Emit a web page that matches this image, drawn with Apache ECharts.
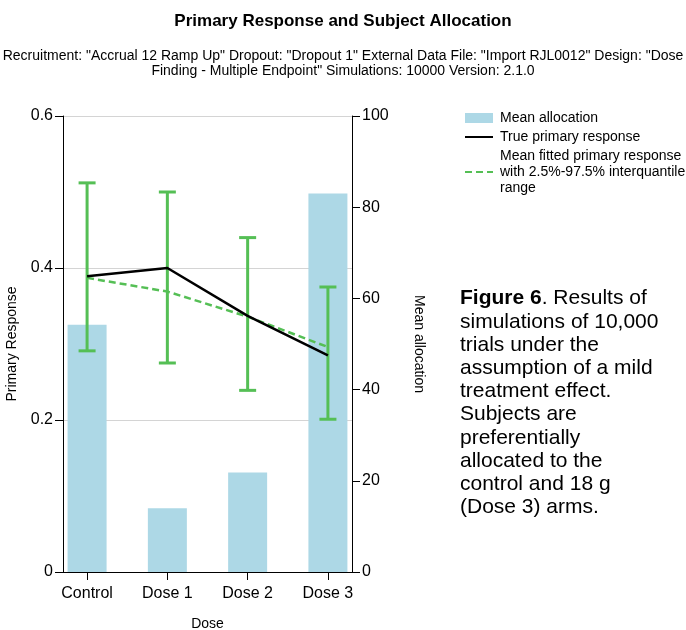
<!DOCTYPE html>
<html>
<head>
<meta charset="utf-8">
<script src="https://cdn.jsdelivr.net/npm/echarts@6/dist/echarts.min.js"></script>
<style>
  html, body { margin: 0; padding: 0; background: #fff; }
  #chart { width: 686px; height: 630px; }
</style>
</head>
<body>
<div id="chart"></div>
<script>
// Dose arms and their positions on the x scale
const doses = ['Control', 'Dose 1', 'Dose 2', 'Dose 3'];
const dosePos = [0, 1, 2, 3];

// Mean number of subjects allocated to each arm
const meanAllocation = [54.2, 14.0, 21.8, 83.0];

// True primary response per arm
const trueResponse = [0.389, 0.400, 0.337, 0.285];

// Mean fitted primary response with 2.5% / 97.5% quantiles
const fittedResponse = [0.387, 0.369, 0.336, 0.296];
const fittedLow = [0.291, 0.275, 0.239, 0.201];
const fittedHigh = [0.512, 0.500, 0.440, 0.375];

const titleText = 'Primary Response and Subject Allocation';
const subtitleText = 'Recruitment: "Accrual 12 Ramp Up" Dropout: "Dropout 1" External Data File: "Import RJL0012" Design: "Dose\nFinding - Multiple Endpoint" Simulations: 10000 Version: 2.1.0';
const legendNames = ['Mean allocation', 'True primary response', 'Mean fitted primary response\nwith 2.5%-97.5% interquantile\nrange'];
const captionText = '{b|Figure 6}. Results of\nsimulations of 10,000\ntrials under the\nassumption of a mild\ntreatment effect.\nSubjects are\npreferentially\nallocated to the\ncontrol and 18 g\n(Dose 3) arms.';

const FONT = '"Liberation Sans", Arial, sans-serif';
const GREEN = '#55bf55';

const chart = echarts.init(document.getElementById('chart'), null, { renderer: 'canvas' });

const pair = (vals) => vals.map((v, i) => [dosePos[i], v]);
// line legend entries show only the stroke, no marker
const hiddenMarker = { opacity: 0 };

chart.setOption({
  animation: false,
  backgroundColor: '#fff',
  textStyle: { fontFamily: FONT },
  title: {
    text: titleText,
    subtext: subtitleText,
    left: 'center',
    top: 8,
    itemGap: 19,
    textStyle: { fontFamily: FONT, fontSize: 17, fontWeight: 'bold', color: '#000' },
    subtextStyle: { fontFamily: FONT, fontSize: 14, lineHeight: 15, color: '#000', align: 'center' }
  },
  legend: {
    data: [
      { name: legendNames[0], icon: 'rect' },
      { name: legendNames[1], itemStyle: hiddenMarker },
      { name: legendNames[2], itemStyle: hiddenMarker }
    ],
    orient: 'vertical',
    left: 464,
    top: 105,
    padding: [5, 0, 5, 0],
    itemWidth: 28,
    itemHeight: 10,
    itemGap: 3,
    textStyle: { fontFamily: FONT, fontSize: 14, lineHeight: 16, color: '#000', padding: [0, 0, 0, 2] },
    selectedMode: false
  },
  grid: { left: 63, right: 334, top: 116, bottom: 58, outerBoundsMode: 'none', containLabel: false },
  xAxis: {
    type: 'value',
    min: -0.3,
    max: 3.3,
    name: 'Dose',
    nameLocation: 'middle',
    nameGap: 45,
    nameTextStyle: { fontFamily: FONT, fontSize: 14, color: '#000' },
    axisLine: { onZero: false, lineStyle: { color: '#000', width: 1 } },
    axisTick: { show: true, customValues: dosePos, length: 8, lineStyle: { color: '#000' } },
    axisLabel: {
      customValues: dosePos,
      formatter: (v) => doses[Math.round(v)],
      fontFamily: FONT, fontSize: 16, color: '#000', margin: 14
    },
    splitLine: { show: false }
  },
  yAxis: [
    {
      type: 'value',
      min: 0,
      max: 0.6,
      interval: 0.2,
      name: 'Primary Response',
      nameLocation: 'middle',
      nameGap: 44,
      nameRotate: 90,
      nameTextStyle: { fontFamily: FONT, fontSize: 14, color: '#000' },
      axisLine: { show: true, onZero: false, lineStyle: { color: '#000', width: 1 } },
      axisTick: { show: true, length: 8, lineStyle: { color: '#000' } },
      axisLabel: { fontFamily: FONT, fontSize: 16, color: '#000', margin: 10 },
      splitLine: { show: true, lineStyle: { color: '#d4d4d4', width: 1 } }
    },
    {
      type: 'value',
      min: 0,
      max: 100,
      interval: 20,
      position: 'right',
      name: 'Mean allocation',
      nameLocation: 'middle',
      nameGap: 60,
      nameRotate: -90,
      nameTextStyle: { fontFamily: FONT, fontSize: 14, color: '#000' },
      axisLine: { show: true, onZero: false, lineStyle: { color: '#000', width: 1 } },
      axisTick: { show: true, length: 8, lineStyle: { color: '#000' } },
      axisLabel: { fontFamily: FONT, fontSize: 16, color: '#000', margin: 10 },
      splitLine: { show: false }
    }
  ],
  series: [
    {
      name: legendNames[0],
      type: 'bar',
      yAxisIndex: 1,
      barWidth: 39,
      itemStyle: { color: '#add8e6' },
      data: pair(meanAllocation),
      z: 1
    },
    {
      name: 'interquantile range',
      type: 'custom',
      yAxisIndex: 0,
      data: dosePos.map((x, i) => [x, fittedLow[i], fittedHigh[i]]),
      encode: { x: 0, y: [1, 2] },
      renderItem: (params, api) => {
        const x = api.value(0);
        const top = api.coord([x, api.value(2)]);
        const bot = api.coord([x, api.value(1)]);
        const half = 8.5;
        const style = { stroke: GREEN, lineWidth: 3 };
        return {
          type: 'group',
          children: [
            { type: 'line', shape: { x1: top[0], y1: top[1], x2: bot[0], y2: bot[1] }, style },
            { type: 'line', shape: { x1: top[0] - half, y1: top[1], x2: top[0] + half, y2: top[1] }, style },
            { type: 'line', shape: { x1: bot[0] - half, y1: bot[1], x2: bot[0] + half, y2: bot[1] }, style }
          ]
        };
      },
      z: 2
    },
    {
      name: legendNames[2],
      type: 'line',
      yAxisIndex: 0,
      symbol: 'none',
      lineStyle: { color: GREEN, width: 2.5, type: [7, 4] },
      itemStyle: { color: GREEN },
      data: pair(fittedResponse),
      z: 3
    },
    {
      name: legendNames[1],
      type: 'line',
      yAxisIndex: 0,
      symbol: 'none',
      lineStyle: { color: '#000', width: 2.5 },
      itemStyle: { color: '#000' },
      data: pair(trueResponse),
      z: 4
    }
  ],
  graphic: [
    {
      type: 'text',
      left: 460,
      top: 287,
      style: {
        text: captionText,
        fontFamily: FONT,
        fontSize: 21,
        lineHeight: 23.2,
        fill: '#000',
        rich: {
          b: { fontFamily: FONT, fontSize: 21, fontWeight: 'bold', lineHeight: 23.2, fill: '#000' }
        }
      }
    }
  ]
});
</script>
</body>
</html>
